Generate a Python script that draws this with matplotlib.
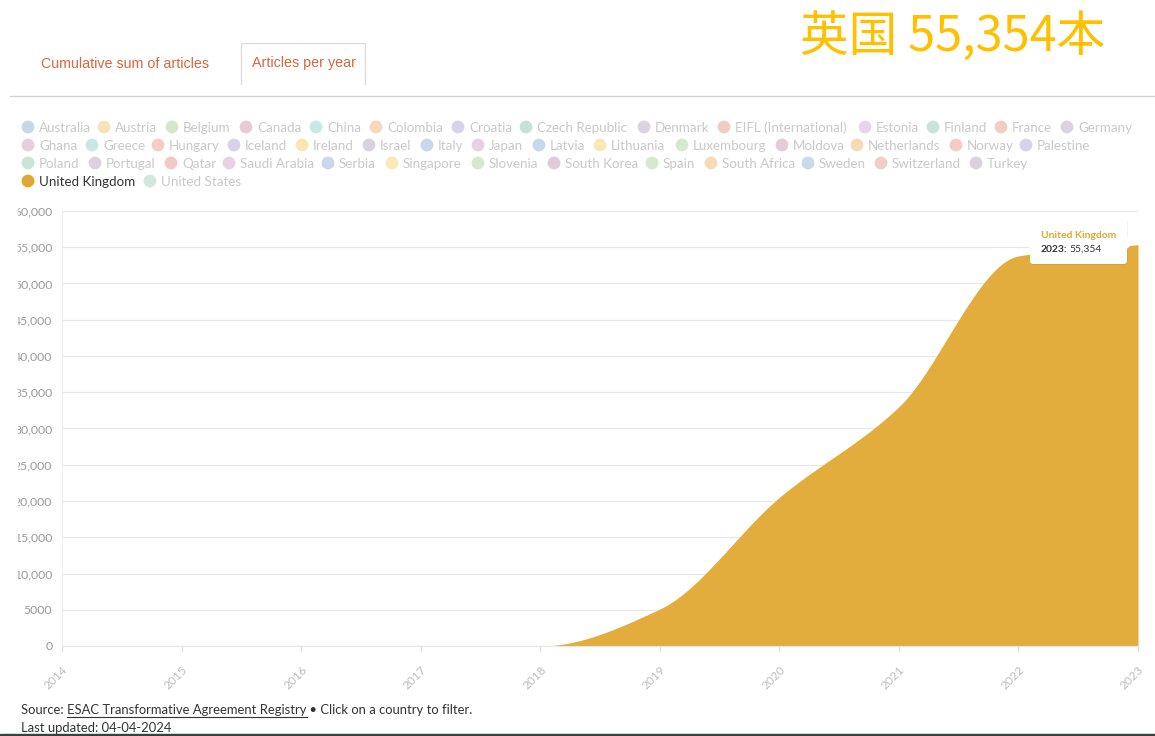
import numpy as np
import matplotlib.pyplot as plt
from matplotlib.patches import Rectangle, FancyBboxPatch, Polygon

plt.rcParams['font.family'] = ['Lato', 'DejaVu Sans']

# articles per year, United Kingdom
years = np.arange(2014, 2024)
articles = np.array([0, 0, 0, 0, 0, 5100, 20500, 33000, 53800, 55354])
selected = 'United Kingdom'

country_rows = [
    ['Australia', 'Austria', 'Belgium', 'Canada', 'China', 'Colombia', 'Croatia',
     'Czech Republic', 'Denmark', 'EIFL (International)', 'Estonia', 'Finland',
     'France', 'Germany'],
    ['Ghana', 'Greece', 'Hungary', 'Iceland', 'Ireland', 'Israel', 'Italy', 'Japan',
     'Latvia', 'Lithuania', 'Luxembourg', 'Moldova', 'Netherlands', 'Norway',
     'Palestine'],
    ['Poland', 'Portugal', 'Qatar', 'Saudi Arabia', 'Serbia', 'Singapore', 'Slovenia',
     'South Korea', 'Spain', 'South Africa', 'Sweden', 'Switzerland', 'Turkey'],
    ['United Kingdom', 'United States'],
]
color_rows = [
    ['#c9d6e6', '#f8e3b6', '#d6e6cd', '#e5cbd6', '#cbe7e4', '#f7d8b8', '#d8d3e8',
     '#c6e1d6', '#d9d4df', '#f3cbc5', '#e6d5ec', '#c8e4d8', '#f3ccc6', '#dad3de'],
    ['#e6cfda', '#cbe7e4', '#f3cdc6', '#d8d3e8', '#f9e6b3', '#d9d3df', '#c9d7e8',
     '#e6d2e2', '#c9d8e8', '#f9e7b4', '#d8e7cf', '#e2ccd7', '#f7dbb8', '#f4cbc5',
     '#d9d3e9'],
    ['#cae4d5', '#dad2de', '#f2c9c6', '#e8d2e5', '#c9d7e8', '#fae8b6', '#d8e7cf',
     '#e2cbd8', '#d8e7cf', '#f7dbb8', '#c9d9e8', '#f4ccc8', '#dad3de'],
    ['#e0a830', '#d2e8de'],
]

# legend layout (pixel positions of the markers)
row_y = [127, 145, 163, 181]
row_x = [
    [28, 104, 172, 246, 316, 376, 458, 526, 644, 724, 865, 933, 1001, 1067],
    [28, 92, 158, 234, 302, 369, 427, 478, 539, 600, 682, 782, 857, 956, 1026],
    [28, 95, 171, 229, 328, 392, 478, 554, 652, 711, 808, 881, 976],
    [28, 150],
]

W, H = 1155, 736
fig = plt.figure(figsize=(W / 100, H / 100), dpi=100)
fig.patch.set_facecolor('white')


def monotone_curve(x, y, n=400):
    # Fritsch-Carlson monotone cubic, used to smooth the area outline
    x = x.astype(float)
    y = y.astype(float)
    h = np.diff(x)
    d = np.diff(y) / h
    m = np.zeros_like(y)
    for k in range(1, len(x) - 1):
        if d[k - 1] * d[k] > 0:
            w1 = 2 * h[k] + h[k - 1]
            w2 = h[k] + 2 * h[k - 1]
            m[k] = (w1 + w2) / (w1 / d[k - 1] + w2 / d[k])
    m[0] = d[0]
    m[-1] = d[-1]
    xs = np.linspace(x[0], x[-1], n)
    idx = np.clip(np.searchsorted(x, xs) - 1, 0, len(x) - 2)
    t = (xs - x[idx]) / h[idx]
    h00 = 2 * t**3 - 3 * t**2 + 1
    h10 = t**3 - 2 * t**2 + t
    h01 = -2 * t**3 + 3 * t**2
    h11 = t**3 - t**2
    ys = h00 * y[idx] + h10 * h[idx] * m[idx] + h01 * y[idx + 1] + h11 * h[idx] * m[idx + 1]
    return xs, ys


# main chart
ax = fig.add_axes([62 / W, (H - 646) / H, 1076 / W, 435 / H])
xs, ys = monotone_curve(years, articles)
ax.fill_between(xs, 0, ys, color='#e2ad3c', linewidth=0, zorder=2)
ax.set_xlim(2014, 2023)
ax.set_ylim(0, 60000)
ax.set_yticks(np.arange(0, 60001, 5000))
ax.set_yticklabels(['0', '5000'] + [f'{v:,}' for v in range(10000, 60001, 5000)])
ax.set_xticks(years)
ax.set_xticklabels([str(y) for y in years], rotation=45, ha='right',
                   rotation_mode='anchor')
ax.grid(axis='y', color='#e8e8e8', linewidth=0.9, zorder=0)
ax.set_axisbelow(True)
for side in ['top', 'right']:
    ax.spines[side].set_visible(False)
ax.spines['left'].set_color('#eeeeee')
ax.spines['bottom'].set_color('#e6e6e6')
ax.spines['bottom'].set_zorder(3)
ax.tick_params(axis='y', length=0, pad=7, labelsize=8.8, labelcolor='#9a9a9a')
ax.tick_params(axis='x', length=4, width=0.8, color='#dddddd', pad=9,
               labelsize=8.6, labelcolor='#bdbdbd')

# everything else is laid out in pixel coordinates
ov = fig.add_axes([0, 0, 1, 1], zorder=3)
ov.set_xlim(0, W)
ov.set_ylim(H, 0)
ov.axis('off')
r = fig.canvas.get_renderer()


def text_right(t):
    bb = t.get_window_extent(r)
    return bb.x1


# y labels are cut at the left edge
ov.add_patch(Rectangle((0, 195), 17, 470, color='white', zorder=1))

# tabs
ov.plot([10, W], [95.5, 95.5], color='#d4d4d4', linewidth=1)
ov.text(41, 63.5, 'Cumulative sum of articles', fontsize=10.3, color='#d8673d',
        va='center', family=['Liberation Sans', 'DejaVu Sans'])
ov.plot([240.5, 240.5, 364.5, 364.5], [84, 42.5, 42.5, 84], color='#dddddd', linewidth=1)
ov.text(252, 63.5, 'Articles per year', fontsize=10.3, color='#d8673d',
        va='center', family=['Liberation Sans', 'DejaVu Sans'])

# headline
ov.text(800, 37, f'英国 {articles[-1]:,}本', fontsize=35, color='#ffc000',
        va='center', ha='left', family=['Noto Sans CJK JP', 'DejaVu Sans'])

# country legend
for names, cols, xr, yr in zip(country_rows, color_rows, row_x, row_y):
    for name, col, x in zip(names, cols, xr):
        on = name == selected
        ov.scatter([x], [yr], s=85, color=col, edgecolors='none', zorder=2)
        ov.text(x + 11, yr + 0.5, name, fontsize=9.6, va='center', ha='left',
                color='#333333' if on else '#c9c9c9')

# tooltip at the last point
ov.add_patch(FancyBboxPatch((1031, 220), 97, 45,
                            boxstyle='round,pad=0,rounding_size=3',
                            fc=(0, 0, 0, 0.05), ec='none', zorder=4))
ov.add_patch(FancyBboxPatch((1030, 219), 97, 45,
                            boxstyle='round,pad=0,rounding_size=3',
                            fc='white', ec='none', zorder=5))
ov.add_patch(Polygon([(1126, 236), (1133, 243), (1126, 250)], closed=True,
                     fc='white', ec='none', zorder=5))
ov.text(1041, 235, selected, fontsize=7.4, fontweight='bold', color='#e0a830',
        va='center', zorder=6)
lbl = ov.text(1041, 249.5, f'{years[-1]}:', fontsize=7.4, fontweight='bold',
              color='#333333', va='center', zorder=6)
ov.text(text_right(lbl) + 2, 249.5, f'{articles[-1]:,}', fontsize=7.4,
        color='#333333', va='center', zorder=6)

# footer
s1 = ov.text(21, 710, 'Source: ', fontsize=9.4, color='#333333', va='center')
x_link = text_right(s1)
s2 = ov.text(x_link, 710, 'ESAC Transformative Agreement Registry', fontsize=9.4,
             color='#333333', va='center')
x_end = text_right(s2)
ov.plot([x_link, x_end], [717, 717], color='#333333', linewidth=0.8)
ov.text(x_end, 710, ' • Click on a country to filter.', fontsize=9.4,
        color='#333333', va='center')
ov.text(21, 728, 'Last updated: 04-04-2024', fontsize=9.4, color='#333333',
        va='center')
ov.add_patch(Rectangle((0, 733.5), W, 3, color='#3b3f3f', zorder=1))

fig.savefig('out.png', dpi=100, facecolor='white')
